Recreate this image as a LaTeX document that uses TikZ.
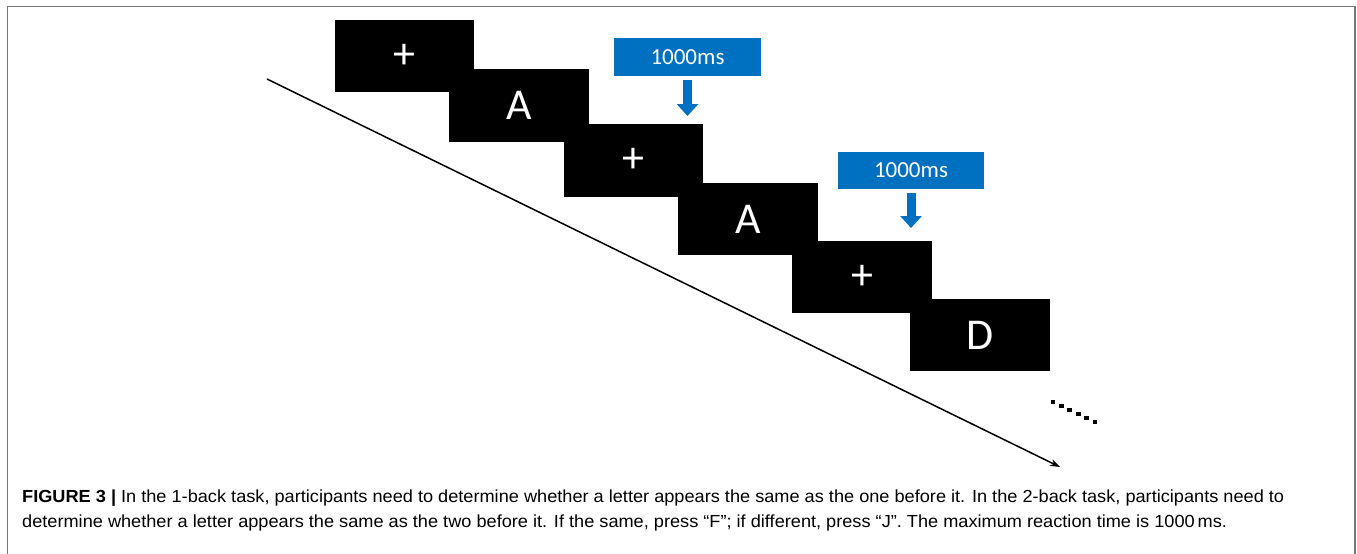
\documentclass[tikz,border=0pt]{standalone}
\usepackage{fontspec}
\setmainfont{Liberation Sans}
\newfontfamily\calfont{Carlito}
\usetikzlibrary{arrows.meta}
\definecolor{msblue}{RGB}{0,112,192}
\definecolor{framegray}{RGB}{120,120,120}
\newlength\capw
\newcommand\capfont{\fontsize{17.5}{17.5}\selectfont}
\newcommand\capone{\textbf{FIGURE 3 |} In the 1-back task, participants need to determine whether a letter appears the same as the one before it. In the 2-back task, participants need to}
\newcommand\captwo{determine whether a letter appears the same as the two before it. If the same, press “F”; if different, press “J”. The maximum reaction time is 1000\,ms.}
\begin{document}
\settowidth\capw{\capfont\capone}
\pgfmathsetmacro\capsx{1262pt/\capw}
\begin{tikzpicture}[x=1pt,y=-1pt,
  trial/.style={fill=black,inner sep=0pt,minimum width=139.5pt,minimum height=72.5pt,text=white,font=\calfont\fontsize{44}{44}\selectfont},
  timebox/.style={fill=msblue,inner sep=0pt,minimum width=146.5pt,minimum height=37.5pt,text=white,font=\calfont\fontsize{23}{23}\selectfont},
  blockarrow/.style={msblue,line width=9pt,-{Triangle[width=21pt,length=12pt]}},
  timeline/.style={line width=1.5pt,-{Stealth[length=10pt,width=7pt]}},
  captext/.style={anchor=base west,inner sep=0pt,font=\capfont}]
\useasboundingbox (0,0) rectangle (1357,554);
\fill[white] (0,0) rectangle (1357,554);
% frame
\draw[framegray,line width=1.6pt] (7.5,554) -- (7.5,6.5) -- (1355,6.5) -- (1355,554);
% timeline
\coordinate (ts) at (267,79);
\coordinate (te) at (1060,467);
\draw[timeline] (ts) -- (te);
% trials
\node[trial] (b1) at (404.5,56) {+};
\node[trial] (b2) at (519,105.5) {A};
\node[trial] (b3) at (633.5,160.5) {+};
\node[trial] (b4) at (748,219) {A};
\node[trial] (b5) at (862,277) {+};
\node[trial] (b6) at (980,335) {D};
% time labels
\node[timebox] (t1) at (687.5,57) {1000ms};
\node[timebox] (t2) at (911,170.5) {1000ms};
\coordinate (a1) at (687.5,116);
\coordinate (a2) at (911,228);
\draw[blockarrow] ([yshift=-4pt]t1.south) -- (a1);
\draw[blockarrow] ([yshift=-4pt]t2.south) -- (a2);
% ellipsis dots
\foreach \i in {0,...,5}
  \fill (1053+8.4*\i,402+4*\i) ++(-2.4,-2.4) rectangle ++(4.8,4.8);
% caption
\node[captext] (c1) at (22,502) {\scalebox{\capsx}[1]{\capone}};
\node[captext] (c2) at (22,527) {\scalebox{\capsx}[1]{\captwo}};
\end{tikzpicture}
\end{document}
